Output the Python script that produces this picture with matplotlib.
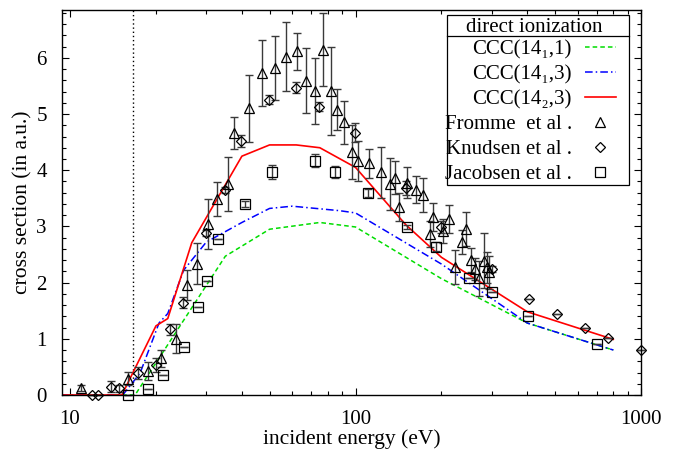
import numpy as np
import matplotlib
matplotlib.use('Agg')
import matplotlib.pyplot as plt
from matplotlib.lines import Line2D
from matplotlib.patches import Rectangle
from matplotlib.ticker import LogLocator, MultipleLocator, FuncFormatter, NullFormatter

plt.rcParams['font.family'] = ['Liberation Serif', 'DejaVu Serif']

# ---------------- data ----------------
threshold_E = 16.6

green_E = [9.3, 16.9, 35, 50, 75, 100, 200, 400, 800]
green_y = [0, 0, 2.47, 2.95, 3.07, 2.99, 2.07, 1.28, 0.80]

blue_E = [9.3, 15.3, 17.6, 20.5, 22, 25, 30, 40, 50, 60, 88, 100, 200, 400, 800]
blue_y = [0, 0, 0.39, 1.28, 1.45, 2.22, 2.72, 3.07, 3.32, 3.36, 3.28, 3.24, 2.33, 1.28, 0.80]

red_E = [9.3, 15.2, 20, 22, 26.7, 40, 50, 62, 75, 100, 150, 200, 400, 800]
red_y = [0, 0, 1.23, 1.36, 2.71, 4.25, 4.45, 4.45, 4.40, 4.05, 3.03, 2.45, 1.48, 0.99]

fromme_E = [10.9, 15.9, 18.8, 20.8, 23.6, 25.6, 27.8, 30.5, 32.8, 35.7, 37.5, 42.5, 47.2,
            52.2, 57.1, 62.2, 67.1, 72.1, 77.1, 82.1, 86.4, 91.2, 97.0, 102.3, 111.8, 122.5,
            132.1, 137.5, 142.3, 151.8, 162.5, 171.9, 182.4, 187.3, 202.1, 213.1, 223.1, 236,
            243.8, 253.2, 262.2, 271.4, 281.8, 288.1, 294.1]
fromme_y = [0.13, 0.29, 0.43, 0.65, 1.0, 1.96, 2.34, 3.04, 3.49, 3.75, 4.66, 5.10, 5.73,
            5.82, 6.02, 6.12, 5.59, 5.41, 6.14, 5.41, 5.08, 4.85, 4.33, 4.16, 4.12, 3.96,
            3.75, 3.87, 3.35, 3.78, 3.65, 3.56, 2.86, 3.17, 2.92, 3.13, 2.28, 2.72,
            2.95, 2.40, 2.24, 2.08, 2.39, 2.27, 2.18]
fromme_err = [0.05, 0.12, 0.16, 0.15, 0.26, 0.27, 0.37, 0.45, 0.30, 0.48, 0.28, 0.60, 0.58,
              0.57, 0.61, 0.33, 0.58, 0.59, 0.65, 0.79, 0.37, 0.38, 0.48, 0.36, 0.25, 0.46,
              0.46, 0.30, 0.25, 0.27, 0.24, 0.30, 0.23, 0.25, 0.21, 0.25, 0.30, 0.21,
              0.30, 0.21, 0.20, 0.31, 0.49, 0.27, 0.30]

knudsen_E = [11.9, 12.5, 13.9, 14.9, 17.3, 20.0, 22.4, 24.8, 29.9, 34.9, 39.8, 49.8, 62,
             74.7, 99.6, 150, 200, 300, 404, 507, 635, 766, 1000]
knudsen_y = [0, 0, 0.15, 0.12, 0.39, 0.53, 1.17, 1.64, 2.88, 3.65, 4.52, 5.25, 5.47,
             5.13, 4.67, 3.68, 2.99, 2.24, 1.70, 1.45, 1.20, 1.01, 0.80]
knudsen_err = [0, 0, 0.1, 0.06, 0.1, 0.12, 0.1, 0.1, 0.05, 0.05, 0.1, 0.08, 0.1,
               0.08, 0.17, 0.12, 0.1, 0.05, 0, 0, 0, 0, 0]

jacobsen_E = [16.0, 18.7, 21.1, 25.1, 28.1, 30.1, 33.1, 41.0, 51.0, 72.1, 84.8, 110.9,
              151.1, 191.4, 250.4, 300, 403, 703]
jacobsen_y = [0, 0.10, 0.36, 0.86, 1.56, 2.03, 2.77, 3.40, 3.97, 4.17, 3.97, 3.59,
              2.99, 2.64, 2.09, 1.83, 1.41, 0.91]
jacobsen_err = [0, 0, 0, 0, 0, 0, 0, 0.05, 0.12, 0.12, 0.1, 0.07,
                0.03, 0.08, 0, 0, 0, 0]

labels = ['CCC(14\u2081,1)', 'CCC(14\u2081,3)', 'CCC(14\u2082,3)',
          'Fromme  et al .', 'Knudsen et al .', 'Jacobsen et al .']
legend_title = 'direct ionization'
x_ticks = [10, 100, 1000]
y_ticks = [0, 1, 2, 3, 4, 5, 6]

# ---------------- figure ----------------
W, H = 682, 459
fig = plt.figure(figsize=(W / 100, H / 100), dpi=100)
ax = fig.add_axes([62 / W, 64 / H, 579 / W, 385.5 / H])

ax.axvline(threshold_E, color='black', lw=1.0, ls=(0, (1, 2)))

lg, = ax.plot(green_E, green_y, color='#00dd00', lw=1.1, ls=(0, (3, 2)))
lb, = ax.plot(blue_E, blue_y, color='#0000ff', lw=1.1, ls=(0, (5, 2, 1, 2)))
lr, = ax.plot(red_E, red_y, color='#ff0000', lw=1.2, ls='-')

ebkw = dict(fmt='none', ecolor='#3a3a3a', elinewidth=1.0, capsize=3, capthick=1.0, clip_on=False)
ax.errorbar(fromme_E, fromme_y, yerr=fromme_err, **ebkw)
ax.errorbar(knudsen_E, knudsen_y, yerr=knudsen_err, **ebkw)
ax.errorbar(jacobsen_E, jacobsen_y, yerr=jacobsen_err, **ebkw)

mkw = dict(ls='none', mfc='none', mec='black', mew=0.9, clip_on=False, zorder=5)
mf, = ax.plot(fromme_E, fromme_y, marker='^', ms=6.8, **mkw)
mk, = ax.plot(knudsen_E, knudsen_y, marker='D', ms=5.4, **mkw)
mj, = ax.plot(jacobsen_E, jacobsen_y, marker='s', ms=6.6, **mkw)

ax.set_xscale('log')
ax.set_xlim(9.375, 1000)
ax.set_ylim(0, 6.86)

ax.xaxis.set_major_locator(LogLocator(base=10))
ax.xaxis.set_minor_locator(LogLocator(base=10, subs=np.arange(2, 10)))
ax.xaxis.set_minor_formatter(NullFormatter())
ax.set_xticks(x_ticks)
ax.xaxis.set_major_formatter(FuncFormatter(lambda v, p: f'{v:g}'))
ax.set_yticks(y_ticks)
ax.yaxis.set_minor_locator(MultipleLocator(0.2))

ax.tick_params(which='both', direction='in', top=True, right=True, labelsize=15,
               width=0.8, color='black')
ax.tick_params(which='major', length=5)
ax.tick_params(which='minor', length=3)
ax.tick_params(axis='x', pad=10.5)
ax.tick_params(axis='y', pad=11)
for s in ax.spines.values():
    s.set_linewidth(1.0)

ax.set_xlabel('incident energy (eV)', fontsize=15.5, labelpad=0.5)
ax.set_ylabel('cross section (in a.u.)', fontsize=15.5, labelpad=2.5)

leg = ax.legend([lg, lb, lr, mf, mk, mj], labels, title=legend_title,
                loc='upper right', bbox_to_anchor=(616 / W, (H - 15) / H),
                bbox_transform=fig.transFigure,
                markerfirst=False, numpoints=1, fontsize=15, title_fontsize=15,
                frameon=False, borderpad=0, labelspacing=0.26,
                handlelength=1.5, handletextpad=0.62, borderaxespad=0)

fig.canvas.draw()
r = fig.canvas.get_renderer()
title = leg.get_title()
title.set_position((4, -3))
fig.canvas.draw()
tb = title.get_window_extent(r)
lb_box = leg.get_window_extent(r)
texts = leg.get_texts()
tx0 = min(t.get_window_extent(r).x0 for t in texts)
ybot = texts[-1].get_window_extent(r).y0
fx0, fx1 = tx0 + 2, lb_box.x1 + 13
fy0, fy1 = ybot - 1, tb.y1 + 3
fig.add_artist(Rectangle((fx0 / W, fy0 / H), (fx1 - fx0) / W, (fy1 - fy0) / H,
                         transform=fig.transFigure, fill=True, facecolor='white',
                         edgecolor='black', lw=0.9, zorder=4))
ysep = tb.y0 + 1
fig.add_artist(Line2D([fx0 / W, fx1 / W], [ysep / H, ysep / H],
                      transform=fig.transFigure, color='black', lw=0.9, zorder=7))
# draw the legend above the frame rectangle
leg.remove()
fig.add_artist(leg)
leg.set_zorder(6)

fig.savefig('out.png', dpi=100)
